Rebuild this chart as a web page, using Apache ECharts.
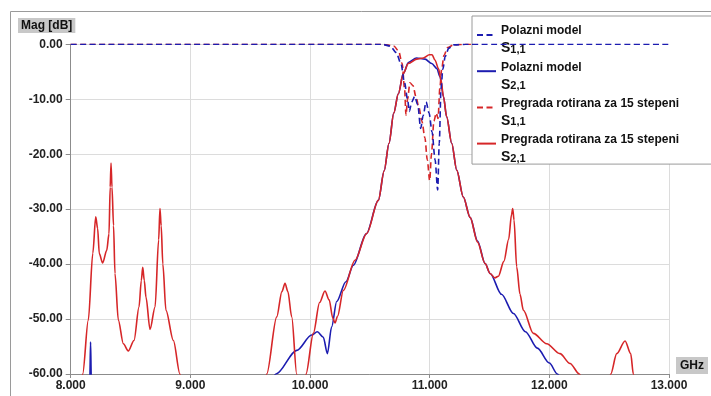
<!DOCTYPE html>
<html>
<head>
<meta charset="utf-8">
<script src="https://cdn.jsdelivr.net/npm/echarts@6/dist/echarts.min.js"></script>
<style>html,body{margin:0;padding:0;background:#fff}#c{width:711px;height:396px}</style>
</head>
<body>
<div id="c"></div>
<script>
// ---- data (frequency GHz, magnitude dB) ----
const seriesNames = ['Polazni model S1,1', 'Polazni model S2,1', 'Pregrada rotirana za 15 stepeni S1,1', 'Pregrada rotirana za 15 stepeni S2,1'];
const legendTitles = ['Polazni model', 'Polazni model', 'Pregrada rotirana za 15 stepeni', 'Pregrada rotirana za 15 stepeni'];
const legendSubs = ['1,1', '2,1', '1,1', '2,1'];
const xTicks = [8, 9, 10, 11, 12, 13];
const yTicks = [0, -10, -20, -30, -40, -50, -60];

const polazniS11 = [[8,0],[10.6,0],[10.67,-0.3],[10.72,-1.5],[10.76,-3.5],[10.79,-7],[10.815,-10],[10.83,-12.2],[10.85,-10.5],[10.875,-9.5],[10.9,-11],[10.925,-15.3],[10.945,-13],[10.97,-10.5],[10.995,-12.5],[11.02,-16],[11.045,-21],[11.067,-26.5],[11.08,-18],[11.095,-8],[11.11,-4.5],[11.13,-2.2],[11.16,-0.7],[11.2,-0.1],[11.3,0],[13,0]];

const polazniS21 = [[8.0,-75],[8.15,-68],[8.16,-61],[8.166,-54.2],[8.172,-61],[8.19,-70],[8.5,-80],[9.0,-80],[9.5,-70],[9.65,-62],[9.716,-60],[9.889,-55.7],[10.014,-52.9],[10.061,-52.3],[10.111,-53.3],[10.145,-56.3],[10.181,-51.4],[10.223,-46.8],[10.3,-43.2],[10.362,-40.2],[10.47,-34.5],[10.571,-28.4],[10.62,-23],[10.66,-18],[10.7,-12.5],[10.738,-9],[10.78,-5.3],[10.822,-3.3],[10.89,-2.5],[10.961,-2.7],[11.017,-3.5],[11.06,-4.4],[11.086,-5.9],[11.115,-9.5],[11.142,-13.2],[11.184,-18],[11.226,-22.9],[11.281,-27.8],[11.338,-31.5],[11.4,-35.8],[11.463,-39.9],[11.505,-41.7],[11.6,-45.5],[11.7,-49],[11.8,-52.3],[11.9,-55.3],[12.0,-58],[12.067,-60],[12.15,-63],[12.3,-68],[13,-80]];

const pregradaS11 = [[8,0],[10.6,0],[10.7,-0.3],[10.74,-1.2],[10.77,-3.5],[10.79,-8],[10.802,-12.9],[10.815,-10],[10.835,-7],[10.86,-7.5],[10.885,-9.5],[10.91,-11.5],[10.935,-14],[10.96,-17],[10.98,-21],[11.0,-24.8],[11.015,-20],[11.035,-14],[11.055,-12.5],[11.07,-13.5],[11.085,-8],[11.1,-4.5],[11.12,-2],[11.15,-0.6],[11.2,-0.1],[11.3,0],[13,0]];

const pregradaS21 = [[8.0,-75],[8.06,-66],[8.1,-60],[8.147,-50.2],[8.185,-38],[8.209,-31.4],[8.225,-33.5],[8.239,-38.1],[8.267,-39.8],[8.301,-37.5],[8.32,-34.5],[8.33,-26],[8.337,-21.6],[8.345,-26],[8.358,-33],[8.37,-41.7],[8.398,-50.2],[8.44,-54.5],[8.481,-55.8],[8.529,-53.9],[8.571,-47.8],[8.59,-43],[8.602,-40.6],[8.615,-43],[8.629,-46],[8.663,-51.9],[8.705,-47.8],[8.735,-35.6],[8.746,-29.9],[8.756,-33],[8.77,-40],[8.796,-48.4],[8.858,-53.9],[8.913,-60],[8.95,-66],[9.05,-75],[9.4,-78],[9.58,-68],[9.638,-60],[9.722,-49.6],[9.765,-45],[9.791,-43.5],[9.815,-45],[9.847,-49.6],[9.889,-60],[9.91,-65],[9.93,-67],[9.95,-65],[9.966,-60],[10.028,-52.6],[10.08,-47],[10.125,-44.9],[10.16,-46.5],[10.19,-49.8],[10.209,-50.7],[10.23,-49.5],[10.278,-44.8],[10.376,-39.3],[10.474,-34.4],[10.571,-28.4],[10.62,-23],[10.66,-18],[10.7,-12.5],[10.738,-9],[10.78,-5.3],[10.822,-3.5],[10.892,-2.7],[10.947,-2.5],[10.997,-1.9],[11.02,-1.9],[11.045,-2.9],[11.073,-4.4],[11.095,-6.5],[11.115,-9.5],[11.142,-13.2],[11.184,-18],[11.226,-22.9],[11.281,-27.8],[11.338,-31.5],[11.4,-36],[11.463,-39.9],[11.505,-41.7],[11.545,-42.5],[11.574,-42.2],[11.62,-39.5],[11.66,-35.5],[11.684,-31],[11.694,-29.9],[11.705,-32],[11.727,-40.5],[11.755,-45.5],[11.783,-48.4],[11.866,-52.6],[11.978,-54.5],[12.089,-56.3],[12.173,-58.1],[12.251,-60],[12.3,-63],[12.4,-67],[12.48,-64],[12.513,-60],[12.563,-56.3],[12.633,-54],[12.68,-56.3],[12.702,-60],[12.74,-65],[12.9,-70],[13,-72]];

const BLUE = '#1c1cb0';
const RED = '#d62628';
const FONT = 'Liberation Sans, Arial, sans-serif';

const chart = echarts.init(document.getElementById('c'));
const dataSets = [polazniS11, polazniS21, pregradaS11, pregradaS21];
const colors = [BLUE, BLUE, RED, RED];
const dashed = [true, false, true, false];

chart.setOption({
  animation: false,
  backgroundColor: '#fff',
  textStyle: { fontFamily: FONT },
  graphic: [{
    type: 'rect', z: -10, silent: true,
    shape: { x: 10.5, y: 11.5, width: 720, height: 400 },
    style: { fill: 'none', stroke: '#9a9a9a', lineWidth: 1 }
  }],
  title: {
    text: 'Mag [dB]', left: 18, top: 18,
    padding: [2, 3, 1, 3],
    backgroundColor: '#c8c8c8',
    textStyle: { fontSize: 12, fontWeight: 'bold', color: '#111', fontFamily: FONT }
  },
  grid: { left: 70.7, right: 42, top: 44.3, bottom: 22, containLabel: false },
  xAxis: {
    type: 'value', min: xTicks[0], max: xTicks[xTicks.length - 1], interval: 1,
    name: 'GHz', nameLocation: 'end', nameGap: 7,
    nameTextStyle: { fontSize: 12, fontWeight: 'bold', color: '#111', backgroundColor: '#c8c8c8', padding: [3, 4, 2, 4], verticalAlign: 'bottom', align: 'left', fontFamily: FONT },
    axisLine: { onZero: false, lineStyle: { color: '#8c8c8c', width: 1 } },
    axisTick: { show: true, length: 4, lineStyle: { color: '#8c8c8c' } },
    axisLabel: { margin: 6, fontSize: 12, fontWeight: 'bold', color: '#222', formatter: v => v.toFixed(3) },
    splitLine: { show: true, lineStyle: { color: '#dcdcdc', width: 1 } }
  },
  yAxis: {
    type: 'value', min: yTicks[yTicks.length - 1], max: yTicks[0], interval: 10,
    axisLine: { show: true, onZero: false, lineStyle: { color: '#8c8c8c', width: 1 } },
    axisTick: { show: true, length: 5, lineStyle: { color: '#8c8c8c' } },
    axisLabel: { margin: 8, fontSize: 12, fontWeight: 'bold', color: '#222', formatter: v => v.toFixed(2) },
    splitLine: { show: true, lineStyle: { color: '#dcdcdc', width: 1 } }
  },
  legend: {
    data: seriesNames,
    left: 472, top: 16,
    orient: 'vertical',
    itemWidth: 19, itemHeight: 12, itemGap: 5.7,
    padding: [9, 40, 0, 4],
    backgroundColor: '#fff', borderColor: '#9a9a9a', borderWidth: 1,
    itemStyle: { color: 'rgba(0,0,0,0)', borderWidth: 0, opacity: 0 },
    formatter: name => {
      const i = seriesNames.indexOf(name);
      return '{t|' + legendTitles[i] + '}\n{s|S}{sub|' + legendSubs[i] + '}';
    },
    textStyle: {
      color: '#111', fontFamily: FONT,
      rich: {
        t: { fontSize: 12, fontWeight: 'bold', color: '#111', lineHeight: 27, fontFamily: FONT },
        s: { fontSize: 14, fontWeight: 'bold', color: '#111', lineHeight: 8, fontFamily: FONT },
        sub: { fontSize: 11, fontWeight: 'bold', color: '#111', lineHeight: 3, verticalAlign: 'top', fontFamily: FONT }
      }
    }
  },
  series: dataSets.map((d, i) => ({
    name: seriesNames[i],
    type: 'line',
    data: d,
    showSymbol: false,
    symbol: 'none',
    smooth: 0.3,
    smoothMonotone: 'x',
    clip: true,
    z: i === 0 ? 4 : 2 + i * 0.1,
    color: colors[i],
    lineStyle: { color: colors[i], width: 1.6, type: dashed[i] ? [6, 3.5] : 'solid' }
  }))
});
</script>
</body>
</html>
